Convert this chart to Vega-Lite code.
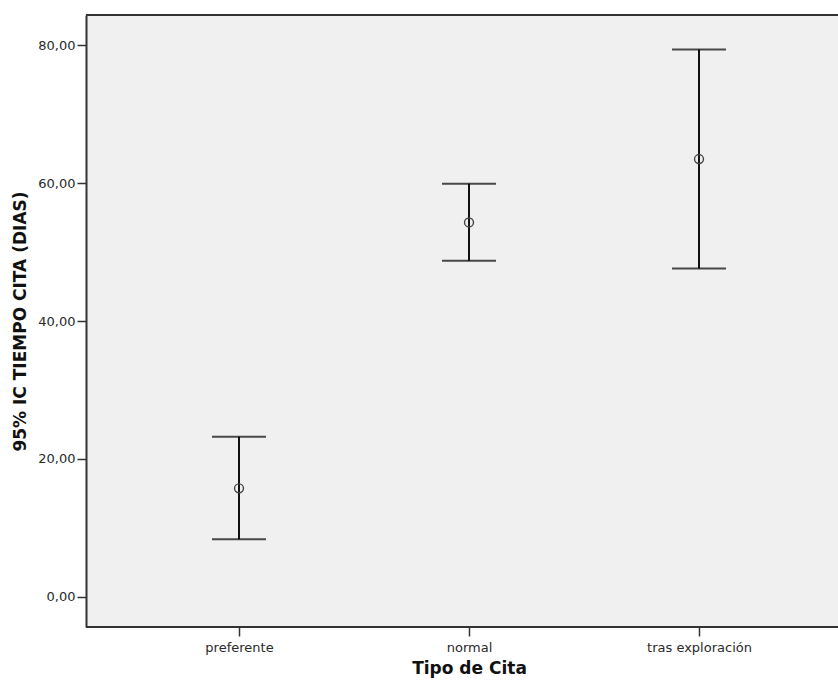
{
  "$schema": "https://vega.github.io/schema/vega-lite/v6.json",
  "autosize": "none",
  "width": 752,
  "height": 612,
  "padding": {"left": 86, "top": 15, "right": 0, "bottom": 56},
  "background": "white",
  "config": {
    "view": {"fill": "#f0f0f0", "stroke": null},
    "font": "DejaVu Sans",
    "axis": {
      "domainColor": "#333333",
      "domainWidth": 2,
      "tickColor": "#333333",
      "tickWidth": 1.5,
      "tickSize": 9,
      "labelFont": "DejaVu Sans",
      "labelFontSize": 13,
      "labelColor": "#2a2a2a",
      "titleFont": "DejaVu Sans",
      "titleFontWeight": "bold",
      "titleColor": "#111111",
      "grid": false
    }
  },
  "data": {
    "values": [
      {"tipo": "preferente", "media": 15.72, "inf": 8.33, "sup": 23.2},
      {"tipo": "normal", "media": 54.3, "inf": 48.74, "sup": 59.9},
      {"tipo": "tras exploración", "media": 63.5, "inf": 47.6, "sup": 79.4}
    ]
  },
  "layer": [
    {
      "mark": {"type": "rule", "color": "#111111", "strokeWidth": 2},
      "encoding": {
        "x": {
          "field": "tipo", "type": "nominal", "sort": null,
          "scale": {"type": "point", "range": [153, 613], "padding": 0},
          "axis": {"orient": "bottom", "domain": false, "labelAngle": 0, "labelPadding": 5, "title": "Tipo de Cita", "titleFontSize": 17, "titlePadding": 6, "titleX": 383, "labelFontSize": 13}
        },
        "y": {
          "field": "inf", "type": "quantitative",
          "scale": {"domain": [-4.4, 84.4], "nice": false, "zero": false},
          "axis": {"values": [0, 20, 40, 60, 80], "labelExpr": "replace(format(datum.value, '.2f'), '.', ',')", "title": "95% IC TIEMPO CITA (DIAS)", "titleFontSize": 17, "titlePadding": 8, "labelPadding": 2},
          "title": "95% IC TIEMPO CITA (DIAS)"
        },
        "y2": {"field": "sup"}
      }
    },
    {
      "mark": {"type": "tick", "color": "#000000", "thickness": 2, "size": 54, "orient": "horizontal"},
      "encoding": {
        "x": {"field": "tipo", "type": "nominal", "sort": null},
        "y": {"field": "sup", "type": "quantitative", "title": "95% IC TIEMPO CITA (DIAS)"}
      }
    },
    {
      "mark": {"type": "tick", "color": "#000000", "thickness": 2, "size": 54, "orient": "horizontal"},
      "encoding": {
        "x": {"field": "tipo", "type": "nominal", "sort": null},
        "y": {"field": "inf", "type": "quantitative", "title": "95% IC TIEMPO CITA (DIAS)"}
      }
    },
    {
      "mark": {"type": "point", "shape": "circle", "filled": false, "stroke": "#444444", "strokeWidth": 1.4, "size": 80, "opacity": 1},
      "encoding": {
        "x": {"field": "tipo", "type": "nominal", "sort": null},
        "y": {"field": "media", "type": "quantitative", "title": "95% IC TIEMPO CITA (DIAS)"}
      }
    },
    {
      "mark": {"type": "rule", "color": "#333333", "strokeWidth": 2},
      "encoding": {
        "y": {"datum": 84.4, "type": "quantitative"}
      }
    },
    {
      "mark": {"type": "rule", "color": "#333333", "strokeWidth": 2},
      "encoding": {
        "y": {"datum": -4.4, "type": "quantitative"}
      }
    }
  ]
}
